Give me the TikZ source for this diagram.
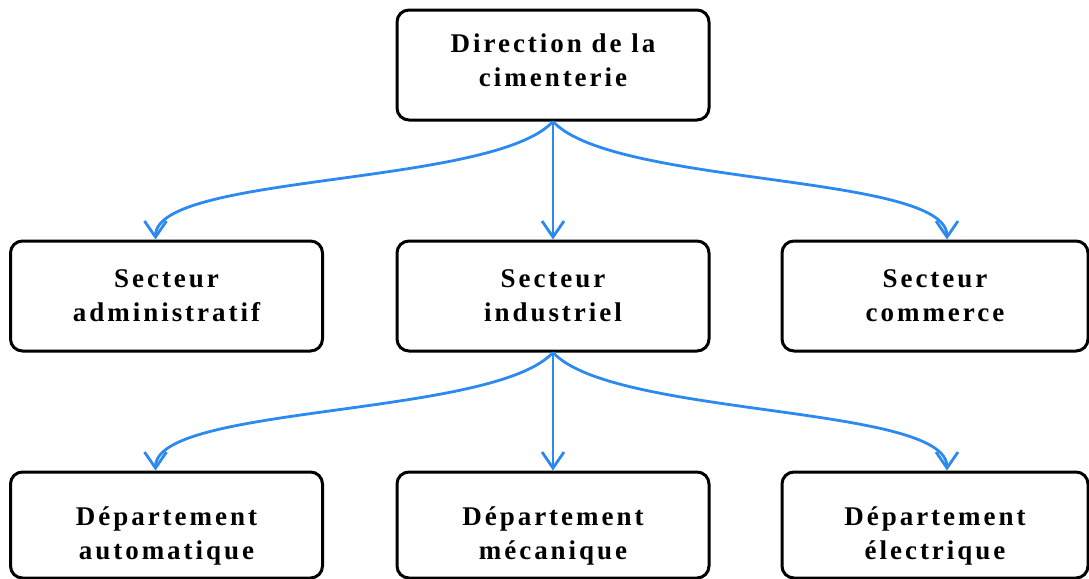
\documentclass[tikz,border=0pt]{standalone}
\usepackage{fontspec}
\usetikzlibrary{arrows.meta}
\newfontfamily\orgfont{Liberation Serif}[LetterSpace=11]
\definecolor{linkblue}{RGB}{44,137,239}
\tikzset{
	unit_box/.style = {
		draw=black,
		line width=1.5pt,
		rounded corners=6pt,
		fill=white,
		align=center,
		inner sep=0pt,
		minimum width=156pt,
		minimum height=55pt,
		font=\orgfont\bfseries\fontsize{13.5}{17}\selectfont
	},
	unit_box_edge/.style = {
		unit_box,
		minimum width=153pt
	},
	% text sits a little high in the top box, low in the bottom row
	unit_box_high/.style = {
		unit_box,
		execute at end node={\rule[-5pt]{0pt}{0pt}}
	},
	unit_box_low/.style = {
		unit_box,
		minimum height=53pt,
		text height=37pt,
		text depth=3pt
	},
	link_arrow/.style = {
		->,
		draw=linkblue,
		line width=1.4pt
	},
}

\begin{document}
\begin{tikzpicture}[x=0.5pt, y=-0.5pt, >={Straight Barb[length=8pt,width=11pt]}]
\useasboundingbox (0,0) rectangle (1089,579);

% top level
\node [unit_box_high] (direction) at (553,65) {Direction de la\\cimenterie};

% sectors
\node [unit_box] (s_admin) at (166.5,296) {Secteur\\administratif};
\node [unit_box] (s_indus) at (553,296) {Secteur\\industriel};
\node [unit_box_edge] (s_comm) at (935,296) {Secteur\\commerce};

% departments
\node [unit_box_low] (d_auto) at (166.5,525) {Département\\automatique};
\node [unit_box_low] (d_meca) at (553,525) {Département\\mécanique};
\node [unit_box_low, minimum width=153pt] (d_elec) at (935,525) {Département\\électrique};

% links
\draw [link_arrow] (direction.south) .. controls +(-60,65) and +(0,-66) .. ([xshift=-5.5pt]s_admin.north);
\draw [link_arrow] (direction.south) -- (s_indus.north);
\draw [link_arrow] (direction.south) .. controls +(60,65) and +(0,-66) .. ([xshift=6pt]s_comm.north);

\draw [link_arrow] (s_indus.south) .. controls +(-60,65) and +(0,-66) .. ([xshift=-5.5pt]d_auto.north);
\draw [link_arrow] (s_indus.south) -- (d_meca.north);
\draw [link_arrow] (s_indus.south) .. controls +(60,65) and +(0,-66) .. ([xshift=6pt]d_elec.north);
\end{tikzpicture}
\end{document}
